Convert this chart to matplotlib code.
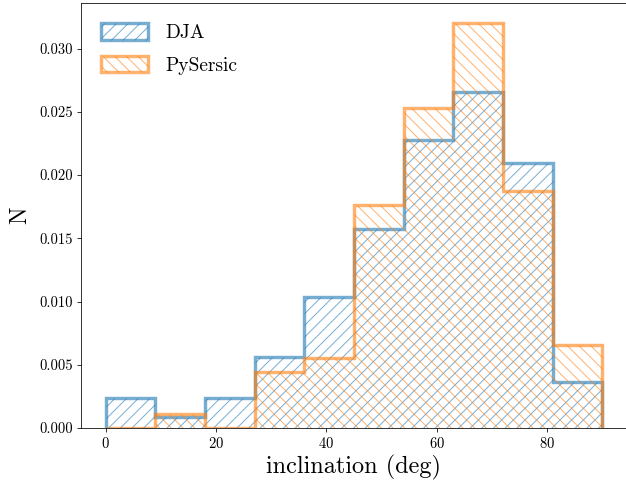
import numpy as np
import matplotlib
matplotlib.use("Agg")
import matplotlib.pyplot as plt

plt.rcParams['font.family'] = 'serif'
plt.rcParams['font.serif'] = ['cmr10', 'DejaVu Serif']
plt.rcParams['mathtext.fontset'] = 'cm'
plt.rcParams['axes.unicode_minus'] = False
plt.rcParams['axes.formatter.use_mathtext'] = True
plt.rcParams['hatch.linewidth'] = 1.0

bin_edges = [0, 9, 18, 27, 36, 45, 54, 63, 72, 81, 90]
dja_density = [0.00234, 0.00084, 0.00234, 0.00563, 0.01034, 0.01571, 0.02279, 0.0266, 0.02095, 0.00363]
pysersic_density = [0.0, 0.0011, 0.0, 0.0044, 0.0055, 0.0176, 0.0253, 0.0320, 0.0187, 0.0066]
series_labels = ["DJA", "PySersic"]
x_ticks = [0, 20, 40, 60, 80]
y_ticks = [0.000, 0.005, 0.010, 0.015, 0.020, 0.025, 0.030]

DPI = 70
W, H = 626, 480
fig = plt.figure(figsize=(W / DPI, H / DPI), dpi=DPI)
ax = fig.add_axes([81 / W, 52 / H, (627 - 81) / W, (428 - 3) / H])

centers = [(a + b) / 2 for a, b in zip(bin_edges[:-1], bin_edges[1:])]
ax.hist(centers, bins=bin_edges, weights=dja_density, histtype='step',
        color='tab:blue', alpha=0.6, linewidth=3.5, hatch='//', label=series_labels[0])
ax.hist(centers, bins=bin_edges, weights=pysersic_density, histtype='step',
        color='tab:orange', alpha=0.6, linewidth=3.5, hatch='\\\\', label=series_labels[1])

ax.set_xticks(x_ticks)
ax.set_yticks(y_ticks)
ax.yaxis.set_major_formatter(matplotlib.ticker.FormatStrFormatter('%.3f'))
ax.tick_params(labelsize=15, length=4.5)
ax.set_xlabel('inclination (deg)', fontsize=25, labelpad=4)
ax.set_ylabel('N', fontsize=24, labelpad=9)
ax.legend(loc='upper left', frameon=False, fontsize=20, handlelength=2.4,
          handleheight=0.9, handletextpad=0.9, borderaxespad=0.65, labelspacing=0.7)

fig.savefig('out.png', dpi=DPI)
